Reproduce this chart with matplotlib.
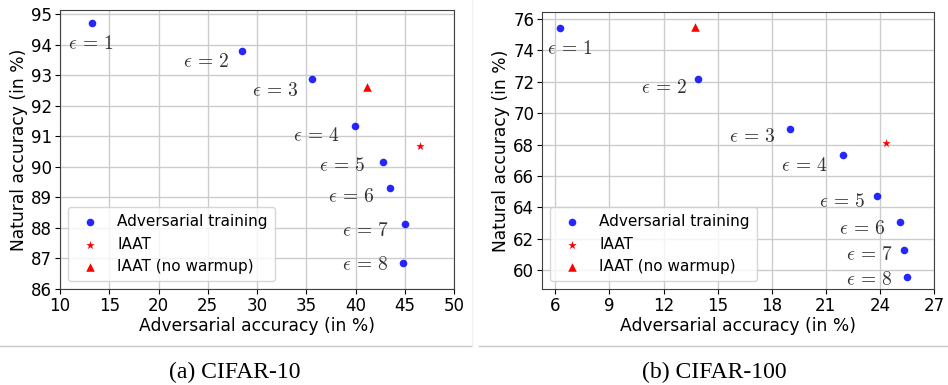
import numpy as np
import matplotlib
matplotlib.use("Agg")
from matplotlib import pyplot as plt
from matplotlib.lines import Line2D

plt.rcParams['mathtext.fontset'] = 'cm'
plt.rcParams['font.family'] = 'DejaVu Sans'

eps_labels = [r'$\epsilon\,=\,%d$' % k for k in range(1, 9)]

# CIFAR-10
c10_adv = [13.2, 28.45, 35.55, 39.98, 42.83, 43.5, 45.03, 44.86]
c10_nat = [94.72, 93.79, 92.87, 91.32, 90.17, 89.30, 88.13, 86.86]
c10_iaat = (46.55, 90.69)
c10_nowarm = (41.13, 92.6)
c10_txt_x = [10.8, 22.5, 29.5, 33.65, 36.3, 37.2, 38.6, 38.6]
c10_txt_y = [94.02, 93.43, 92.49, 91.01, 90.03, 89.03, 87.93, 86.8]

# CIFAR-100
c100_adv = [6.24, 13.91, 19.0, 21.96, 23.84, 25.13, 25.34, 25.5]
c100_nat = [75.45, 72.16, 68.97, 67.31, 64.74, 63.08, 61.28, 59.58]
c100_iaat = (24.36, 68.08)
c100_nowarm = (13.74, 75.49)
c100_txt_x = [5.56, 10.73, 15.64, 18.54, 20.61, 21.73, 22.1, 22.1]
c100_txt_y = [74.13, 71.65, 68.54, 66.69, 64.4, 62.66, 61.02, 59.43]


def panel(ax, adv, nat, iaat, nowarm, tx, ty):
    ax.grid(True, color='#cccccc', linewidth=1.0)
    ax.set_axisbelow(True)
    ax.scatter(adv, nat, s=30, color='blue', alpha=0.85, linewidths=0,
               label='Adversarial training', zorder=3)
    ax.scatter([iaat[0]], [iaat[1]], s=40, marker='*', color='red',
               linewidths=0, label='IAAT', zorder=3)
    ax.scatter([nowarm[0]], [nowarm[1]], s=38, marker='^', color='red',
               linewidths=0, label='IAAT (no warmup)', zorder=3)
    for lab, x, y in zip(eps_labels, tx, ty):
        ax.text(x, y, lab, ha='left', va='center', fontsize=14, color='0.2')
    ax.set_xlabel('Adversarial accuracy (in %)', fontsize=12.3, labelpad=2)
    ax.set_ylabel('Natural accuracy (in %)', fontsize=12.3, labelpad=2)
    ax.tick_params(labelsize=12, pad=2)
    for sp in ax.spines.values():
        sp.set_color('0.25')
    ax.legend(loc='lower left', fontsize=11, framealpha=0.8,
              edgecolor='#cccccc', borderpad=0.45, labelspacing=0.5)


fig = plt.figure(figsize=(9.48, 3.85), dpi=100)
ax1 = fig.add_axes([0.0633, 0.2494, 0.4156, 0.7246])
ax2 = fig.add_axes([0.5717, 0.2494, 0.4135, 0.7194])

panel(ax1, c10_adv, c10_nat, c10_iaat, c10_nowarm, c10_txt_x, c10_txt_y)
ax1.set_xlim(10, 50)
ax1.set_ylim(86, 95.13)
ax1.set_xticks(np.arange(10, 51, 5))
ax1.set_yticks(np.arange(86, 96, 1))

panel(ax2, c100_adv, c100_nat, c100_iaat, c100_nowarm, c100_txt_x, c100_txt_y)
ax2.set_xlim(5.26, 27)
ax2.set_ylim(58.8, 76.45)
ax2.set_xticks(np.arange(6, 28, 3))
ax2.set_yticks(np.arange(60, 77, 2))

# separator lines under each panel
fig.add_artist(Line2D([0.0, 0.498], [0.101, 0.101], color='#c8c8c8', lw=1))
fig.add_artist(Line2D([0.505, 1.0], [0.101, 0.101], color='#c8c8c8', lw=1))
fig.add_artist(Line2D([0.498, 0.498], [0.101, 1.0], color='#f0f0f0', lw=1))

fig.text(0.248, 0.033, '(a) CIFAR-10', ha='center', va='center',
         fontsize=17, family='Liberation Serif')
fig.text(0.753, 0.033, '(b) CIFAR-100', ha='center', va='center',
         fontsize=17, family='Liberation Serif')

fig.savefig('out.png', dpi=100)
